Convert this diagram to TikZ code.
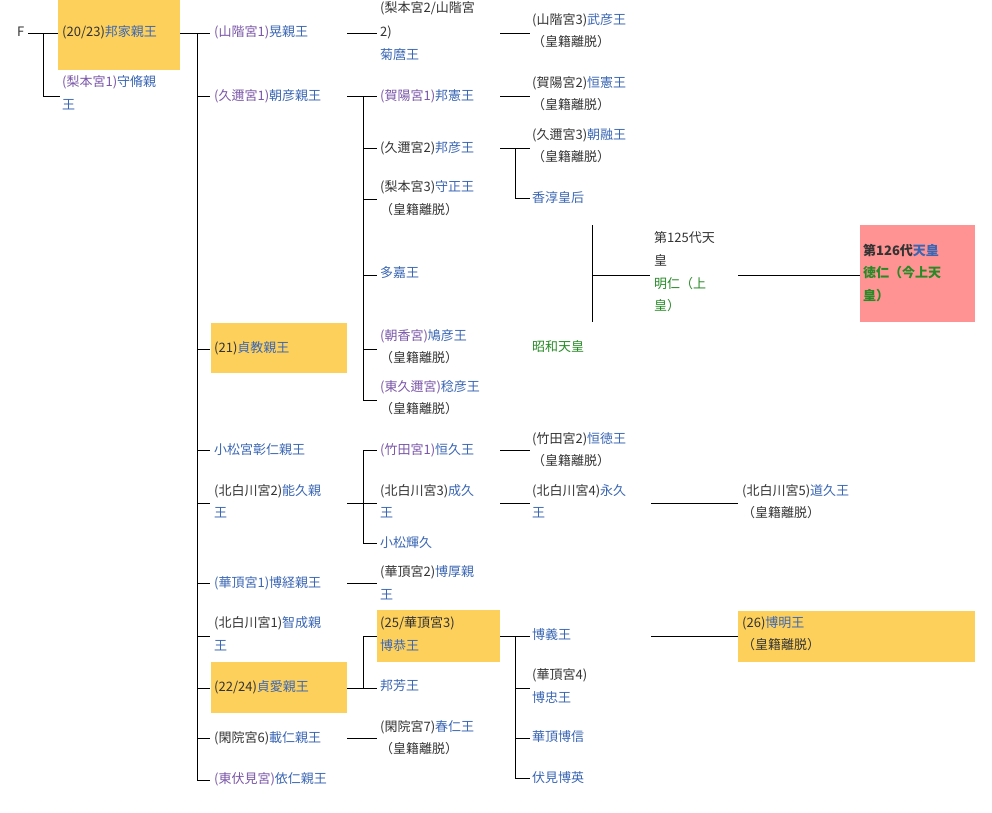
\documentclass[tikz,border=0pt]{standalone}
\usepackage{fontspec}
\setmainfont{Noto Sans CJK JP}
\definecolor{lnk}{HTML}{3A66B4}
\definecolor{vis}{HTML}{7A56A8}
\definecolor{txt}{HTML}{333333}
\definecolor{grn}{HTML}{268A26}
\definecolor{yel}{HTML}{FDD05C}
\definecolor{pnk}{HTML}{FF9393}
\newcommand\Pu[1]{\textcolor{vis}{#1}}
\newcommand\Bl[1]{\textcolor{lnk}{#1}}
\newcommand\Gr[1]{\textcolor{grn}{#1}}
\begin{document}
\begin{tikzpicture}[x=1pt,y=-1pt,
  t/.style={anchor=west,inner sep=0pt,text=txt,font=\fontsize{13}{13}\selectfont},
  ln/.style={draw=black,line width=0.9pt},
  yb/.style={fill=yel,draw=none},
  pb/.style={fill=pnk,draw=none}]
\useasboundingbox (0,0) rectangle (992,812);
\fill[white] (0,0) rectangle (992,812);
% boxes
\fill[yb] (58,0) rectangle (180,70);
\fill[yb] (211,323) rectangle (347,373);
\fill[yb] (211,662) rectangle (347,713);
\fill[yb] (377,610) rectangle (500,662);
\fill[yb] (738,611) rectangle (975,662);
\fill[pb] (860,225) rectangle (975,322);
% column 1
\node[t] (F) at (17,32) {F};
\node[t] (kuniie) at (62,32) {(20/23)\Bl{邦家親王}};
\node[t] (morio) at (62,82) {\Pu{(梨本宮1)}\Bl{守脩親}};
\node[t] (morio2) at (62,105) {\Bl{王}};
\draw[ln] (28,33) -- (58,33);
\draw[ln] (43,33) |- (60,96);
% column 2
\draw[ln] (180,33) -- (210,33);
\draw[ln] (197,33) -- (197,780);
\foreach \y in {96,349,450,503,583,636,688,738,780} \draw[ln] (197,\y) -- (210,\y);
\node[t] (akira) at (214,32) {\Pu{(山階宮1)}\Bl{晃親王}};
\node[t] (asahiko) at (214,96) {\Pu{(久邇宮1)}\Bl{朝彦親王}};
\node[t] (sadanori) at (214,348) {(21)\Bl{貞教親王}};
\node[t] (akihito0) at (214,450) {\Bl{小松宮彰仁親王}};
\node[t] (yoshihisa) at (214,491) {(北白川宮2)\Bl{能久親}};
\node[t] (yoshihisa2) at (214,513) {\Bl{王}};
\node[t] (hirotsune) at (214,583) {\Bl{(華頂宮1)博経親王}};
\node[t] (satonari) at (214,623) {(北白川宮1)\Bl{智成親}};
\node[t] (satonari2) at (214,646) {\Bl{王}};
\node[t] (sadanaru) at (214,687) {(22/24)\Bl{貞愛親王}};
\node[t] (kotohito) at (214,738) {(閑院宮6)\Bl{載仁親王}};
\node[t] (yorihito) at (214,779) {\Pu{(東伏見宮)}\Bl{依仁親王}};
% column 3 connectors
\foreach \y in {33,96,503,583,688,738} \draw[ln] (347,\y) -- (377,\y);
\draw[ln] (363,96) -- (363,400);
\foreach \y in {148,199,275,349,400} \draw[ln] (363,\y) -- (377,\y);
\draw[ln] (363,450) -- (363,543);
\foreach \y in {450,543} \draw[ln] (363,\y) -- (377,\y);
\draw[ln] (363,636) -- (363,688) (363,636) -- (377,636);
\node[t] (kiku1) at (380,8) {(梨本宮2/山階宮};
\node[t] (kiku2) at (380,32) {2)};
\node[t] (kiku3) at (380,55) {\Bl{菊麿王}};
\node[t] (kuninori) at (380,96) {\Pu{(賀陽宮1)}\Bl{邦憲王}};
\node[t] (kunihiko) at (380,148) {(久邇宮2)\Bl{邦彦王}};
\node[t] (morimasa) at (380,187) {(梨本宮3)\Bl{守正王}};
\node[t] (morimasa2) at (380,210) {（皇籍離脱）};
\node[t] (taka) at (380,273) {\Bl{多嘉王}};
\node[t] (yasuhiko) at (380,336) {\Pu{(朝香宮)}\Bl{鳩彦王}};
\node[t] (yasuhiko2) at (380,358) {（皇籍離脱）};
\node[t] (naruhiko) at (380,387) {\Pu{(東久邇宮)}\Bl{稔彦王}};
\node[t] (naruhiko2) at (380,409) {（皇籍離脱）};
\node[t] (tsunehisa) at (380,450) {\Pu{(竹田宮1)}\Bl{恒久王}};
\node[t] (naruhisa) at (380,491) {(北白川宮3)\Bl{成久}};
\node[t] (naruhisa2) at (380,513) {\Bl{王}};
\node[t] (teruhisa) at (380,543) {\Bl{小松輝久}};
\node[t] (hiroatsu) at (380,572) {(華頂宮2)\Bl{博厚親}};
\node[t] (hiroatsu2) at (380,595) {\Bl{王}};
\node[t] (hiroyasu) at (380,623) {(25/華頂宮3)};
\node[t] (hiroyasu2) at (380,646) {\Bl{博恭王}};
\node[t] (kuniyoshi) at (380,686) {\Bl{邦芳王}};
\node[t] (haruhito) at (380,727) {(閑院宮7)\Bl{春仁王}};
\node[t] (haruhito2) at (380,749) {（皇籍離脱）};
% column 4 connectors
\foreach \y in {33,96,148,450,503,636} \draw[ln] (500,\y) -- (530,\y);
\draw[ln] (515,148) |- (530,198);
\draw[ln] (515,636) -- (515,778);
\foreach \y in {688,738,778} \draw[ln] (515,\y) -- (530,\y);
\node[t] (takehiko) at (532,20) {(山階宮3)\Bl{武彦王}};
\node[t] (takehiko2) at (532,42) {（皇籍離脱）};
\node[t] (tsunenori) at (532,83) {(賀陽宮2)\Bl{恒憲王}};
\node[t] (tsunenori2) at (532,105) {（皇籍離脱）};
\node[t] (asaakira) at (532,135) {(久邇宮3)\Bl{朝融王}};
\node[t] (asaakira2) at (532,157) {（皇籍離脱）};
\node[t] (kojun) at (532,198) {\Bl{香淳皇后}};
\node[t] (showa) at (532,347) {\Gr{昭和天皇}};
\node[t] (tsunenori3) at (532,439) {(竹田宮2)\Bl{恒徳王}};
\node[t] (tsunenori4) at (532,461) {（皇籍離脱）};
\node[t] (nagahisa) at (532,491) {(北白川宮4)\Bl{永久}};
\node[t] (nagahisa2) at (532,513) {\Bl{王}};
\node[t] (hiroyoshi) at (532,635) {\Bl{博義王}};
\node[t] (hirotada) at (532,675) {(華頂宮4)};
\node[t] (hirotada2) at (532,698) {\Bl{博忠王}};
\node[t] (hironobu) at (532,737) {\Bl{華頂博信}};
\node[t] (hirohide) at (532,778) {\Bl{伏見博英}};
% emperors
\draw[ln] (592,225) -- (592,322);
\draw[ln] (592,275) -- (650,275);
\draw[ln] (738,275) -- (860,275);
\node[t] (e1) at (654,238) {第125代天};
\node[t] (e2) at (654,260) {皇};
\node[t] (e3) at (654,284) {\Gr{明仁（上}};
\node[t] (e4) at (654,306) {\Gr{皇）}};
\node[t,font=\fontsize{13}{13}\selectfont\bfseries] (n1) at (863,250) {第126代\Bl{天皇}};
\node[t,font=\fontsize{13}{13}\selectfont\bfseries] (n2) at (863,273) {\Gr{徳仁（今上天}};
\node[t,font=\fontsize{13}{13}\selectfont\bfseries] (n3) at (863,296) {\Gr{皇）}};
% right column
\draw[ln] (651,503) -- (738,503);
\draw[ln] (651,636) -- (738,636);
\node[t] (michihisa) at (742,491) {(北白川宮5)\Bl{道久王}};
\node[t] (michihisa2) at (742,513) {（皇籍離脱）};
\node[t] (hiroaki) at (742,623) {(26)\Bl{博明王}};
\node[t] (hiroaki2) at (742,645) {（皇籍離脱）};
\end{tikzpicture}
\end{document}
